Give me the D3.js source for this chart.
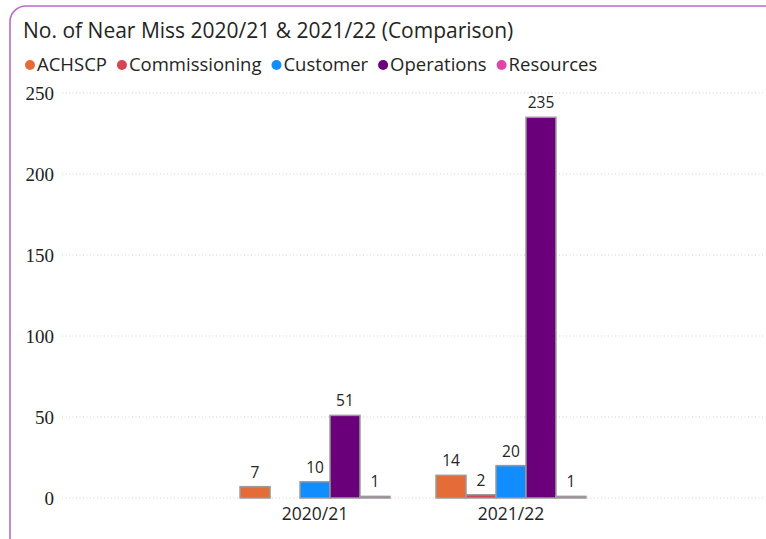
<!DOCTYPE html>
<html lang="en">
  <head>
    <style>
      body { margin: 0; background: #fff; }
      text { font-family: "Segoe UI", "Open Sans", "Noto Sans", sans-serif; fill: #252423; }
      .ytick text { font-family: "Liberation Serif", "DejaVu Serif", serif; font-size: 19px; fill: #222; }
      .grid line { stroke: #d0d0d0; stroke-dasharray: 1 2.5; }
    </style>
    <script src="https://d3js.org/d3.v7.min.js"></script>
  </head>
  <body>
    <svg width="766" height="539"></svg>
    <script>
      const years = ["2020/21", "2021/22"];
      const series = ["ACHSCP", "Commissioning", "Customer", "Operations", "Resources"];
      const colors = ["#E66C37", "#D64550", "#118DFF", "#6B007B", "#E044A7"];
      const values2021 = [7, null, 10, 51, 1];
      const values2122 = [14, 2, 20, 235, 1];
      const yTicks = [0, 50, 100, 150, 200, 250];

      const data = [
        { year: years[0], vals: values2021 },
        { year: years[1], vals: values2122 },
      ];

      const svg = d3.select("svg");

      // card border
      svg.append("rect")
        .attr("x", 10).attr("y", 6)
        .attr("width", 790).attr("height", 570)
        .attr("rx", 16)
        .attr("fill", "#fff")
        .attr("stroke", "#B66CC8")
        .attr("stroke-width", 1.6);

      svg.append("text")
        .attr("x", 23).attr("y", 38)
        .attr("font-size", 21)
        .text("No. of Near Miss 2020/21 & 2021/22 (Comparison)");

      // legend
      let lx = 25;
      series.forEach(function (s, i) {
        svg.append("circle")
          .attr("cx", lx + 5).attr("cy", 65).attr("r", 5)
          .attr("fill", colors[i]);
        const t = svg.append("text")
          .attr("x", lx + 12).attr("y", 71)
          .attr("font-size", 18.5)
          .text(s);
        lx += 12 + t.node().getComputedTextLength() + 10;
      });

      const plotLeft = 62, plotRight = 764, plotTop = 93, plotBottom = 498;

      const y = d3.scaleLinear().domain([0, 250]).range([plotBottom, plotTop]);
      const x0 = d3.scaleBand().domain(years).range([194, 632]).padding(0.235);
      const x1 = d3.scaleBand().domain(series).range([0, x0.bandwidth()]);

      // grid
      svg.append("g").attr("class", "grid")
        .selectAll("line").data(yTicks).enter().append("line")
        .attr("x1", plotLeft).attr("x2", plotRight)
        .attr("y1", function (d) { return y(d); })
        .attr("y2", function (d) { return y(d); });

      const yAxis = svg.append("g")
        .attr("class", "ytick")
        .attr("transform", "translate(" + 54 + ",0)")
        .call(d3.axisLeft(y).tickValues(yTicks).tickSize(0).tickPadding(0));
      yAxis.select(".domain").remove();

      const xAxis = svg.append("g")
        .attr("transform", "translate(0," + (plotBottom + 4) + ")")
        .call(d3.axisBottom(x0).tickSize(0).tickPadding(6));
      xAxis.select(".domain").remove();
      xAxis.selectAll("text")
        .attr("font-size", 17.5)
        .attr("fill", "#333")
        .attr("font-family", "'Segoe UI', 'Open Sans', sans-serif");

      const groups = svg.selectAll(".grp")
        .data(data).enter().append("g")
        .attr("class", "grp")
        .attr("transform", function (d) { return "translate(" + x0(d.year) + ",0)"; });

      const items = groups.selectAll(".bar")
        .data(function (d) {
          return series.map(function (s, i) { return { s: s, i: i, v: d.vals[i] }; })
            .filter(function (e) { return e.v != null; });
        })
        .enter();

      items.append("rect")
        .attr("class", "bar")
        .attr("x", function (d) { return x1(d.s); })
        .attr("y", function (d) { return y(d.v); })
        .attr("width", x1.bandwidth())
        .attr("height", function (d) { return plotBottom - y(d.v); })
        .attr("fill", function (d) { return colors[d.i]; })
        .attr("stroke", "#9a9a9a")
        .attr("stroke-width", 1.5);

      items.append("text")
        .attr("x", function (d) { return x1(d.s) + x1.bandwidth() / 2; })
        .attr("y", function (d) { return y(d.v) - 9; })
        .attr("text-anchor", "middle")
        .attr("font-size", 15.5)
        .attr("fill", "#333")
        .text(function (d) { return d.v; });
    </script>
  </body>
</html>
